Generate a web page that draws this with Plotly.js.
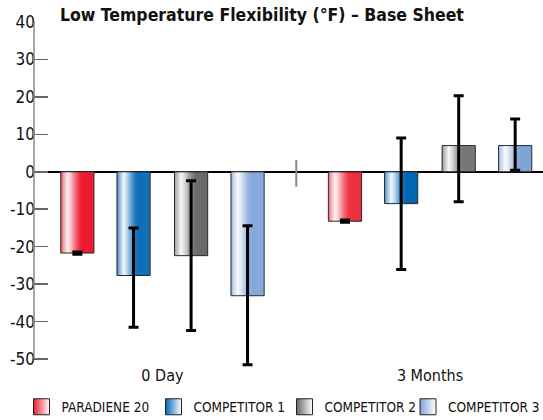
<!DOCTYPE html>
<html>
<head>
<meta charset="utf-8">
<script src="https://cdn.plot.ly/plotly-3.0.1.min.js"></script>
<style>html,body{margin:0;padding:0;background:#fff;}#chart{width:543px;height:420px;}</style>
</head>
<body>
<div id="chart"></div>
<script>
// ---- data ----
var categories = ['0 Day', '3 Months'];
var seriesNames = ['PARADIENE 20', 'COMPETITOR 1', 'COMPETITOR 2', 'COMPETITOR 3'];
var paradiene20 = [-21.7, -13.2];
var competitor1 = [-27.7, -8.5];
var competitor2 = [-22.4, 7.0];
var competitor3 = [-33.1, 7.0];
var paradiene20ErrPlus = [0.3, 0.3];
var paradiene20ErrMinus = [0.3, 0.3];
var competitor1ErrPlus = [12.7, 17.5];
var competitor1ErrMinus = [13.8, 17.6];
var competitor2ErrPlus = [20.0, 13.3];
var competitor2ErrMinus = [20.0, 15.0];
var competitor3ErrPlus = [18.7, 7.1];
var competitor3ErrMinus = [18.4, 6.6];
var yTickVals = [-50, -40, -30, -20, -10, 0, 10, 20, 30, 40];
var yTickText = ['-50', '-40', '-30', '-20', '-10', '0', '10', '20', '30', '40'];
var chartTitle = 'Low Temperature Flexibility (°F) – Base Sheet';

// ---- style ----
var FONT = '"DejaVu Sans Condensed", "Liberation Sans Narrow", sans-serif';
var baseColors = [[237, 28, 46], [0, 102, 179], [102, 102, 102], [127, 164, 216]];
var edgeColors = [[200, 60, 60], [60, 110, 185], [130, 130, 130], [140, 170, 215]];
var offsets = [-0.318, -0.108, 0.107, 0.318];
var barW = 0.124;
var N = 33;
var legendIds = ['legend', 'legend2', 'legend3', 'legend4'];
var legendX = [21.5, 153.5, 284.5, 408];
// white-mix profile across a bar (t from 0 to 1)
var profile = [[0, 0.15], [0.08, 0.55], [0.2, 0.95], [0.3, 0.75], [0.42, 0.4], [0.55, 0.1], [0.65, 0], [1, 0]];

function whiteAt(t) {
  for (var i = 1; i < profile.length; i++) {
    if (t <= profile[i][0]) {
      var a = profile[i - 1], b = profile[i];
      var u = (t - a[0]) / (b[0] - a[0]);
      return a[1] + (b[1] - a[1]) * u;
    }
  }
  return 0;
}
function mix(c, edge, t) {
  var w = whiteAt(t);
  var base = c;
  if (t < 0.08) {
    var k = 1 - t / 0.08;
    base = [c[0] * (1 - k) + edge[0] * k, c[1] * (1 - k) + edge[1] * k, c[2] * (1 - k) + edge[2] * k];
  }
  var r = Math.round(base[0] + (255 - base[0]) * w);
  var g = Math.round(base[1] + (255 - base[1]) * w);
  var bb = Math.round(base[2] + (255 - base[2]) * w);
  return 'rgb(' + r + ',' + g + ',' + bb + ')';
}

var values = [paradiene20, competitor1, competitor2, competitor3];
var errPlus = [paradiene20ErrPlus, competitor1ErrPlus, competitor2ErrPlus, competitor3ErrPlus];
var errMinus = [paradiene20ErrMinus, competitor1ErrMinus, competitor2ErrMinus, competitor3ErrMinus];

var traces = [];
// gradient strips
for (var s = 0; s < 4; s++) {
  var left = offsets[s] - barW / 2;
  var sw = barW / N;
  for (var k = 0; k < N; k++) {
    var t = (k + 0.5) / N;
    traces.push({
      type: 'bar', x: categories, y: values[s],
      offset: left + k * sw, width: sw * (k === N - 1 ? 1 : 1.3),
      marker: {color: mix(baseColors[s], edgeColors[s], t), line: {width: 0}},
      showlegend: false, hoverinfo: 'skip'
    });
  }
}
// outlines + error bars
for (var s2 = 0; s2 < 4; s2++) {
  traces.push({
    type: 'bar', x: categories, y: values[s2], name: seriesNames[s2],
    offset: offsets[s2] - barW / 2, width: barW,
    marker: {color: 'rgba(0,0,0,0)', line: {color: '#2a2a2a', width: 1}},
    error_y: {type: 'data', symmetric: false, array: errPlus[s2], arrayminus: errMinus[s2],
              color: '#000', thickness: 3, width: 5},
    showlegend: false
  });
}
// legend entries (one legend per entry, placed side by side)
var layoutLegends = {};
for (var s3 = 0; s3 < 4; s3++) {
  var bc = baseColors[s3];
  traces.push({
    type: 'scatter', mode: 'markers', x: [categories[0]], y: [null], name: seriesNames[s3],
    legend: legendIds[s3],
    marker: {symbol: 'square', size: 16, color: 'rgb(' + bc.join(',') + ')',
             line: {color: '#222', width: 1},
             gradient: {type: 'horizontal', color: '#ffffff'}},
    showlegend: true, hoverinfo: 'skip'
  });
  layoutLegends[legendIds[s3]] = {
    orientation: 'h', xref: 'container', yref: 'container', x: legendX[s3] / 543, y: 13 / 420,
    xanchor: 'left', yanchor: 'middle', font: {family: FONT, size: 13.5, color: '#111'},
    bgcolor: 'rgba(0,0,0,0)', itemclick: false, itemdoubleclick: false
  };
}

var layout = {
  width: 543, height: 420,
  margin: {l: 34, r: 0, t: 22, b: 52},
  paper_bgcolor: '#fff', plot_bgcolor: '#fff',
  barmode: 'overlay',
  font: {family: FONT, color: '#111'},
  title: {text: chartTitle, font: {family: FONT, size: 17.5, weight: 'bold', color: '#111'},
          xref: 'container', x: 60 / 543, xanchor: 'left', yref: 'container', y: 1 - 15 / 420, yanchor: 'middle'},
  xaxis: {type: 'category', range: [-0.480, 1.422], showline: false, ticks: '', showgrid: false,
          zeroline: false, tickfont: {family: FONT, size: 16, color: '#111'}, ticklabelstandoff: -4},
  yaxis: {range: [-52.4, 40], tickvals: yTickVals, ticktext: yTickText, showgrid: false,
          showline: false,
          ticks: 'inside', ticklen: 14, tickwidth: 1.5, tickcolor: '#666',
          zeroline: true, zerolinecolor: '#000', zerolinewidth: 1.5,
          ticklabelstandoff: -2,
          tickfont: {family: FONT, size: 17, color: '#111'}},
  shapes: [
    {type: 'line', xref: 'paper', yref: 'y', x0: 0, x1: 0, y0: -50, y1: 40,
     line: {color: '#888', width: 1.5}, layer: 'above'},
    {type: 'line', xref: 'x', yref: 'y', x0: 0.5, x1: 0.5, y0: -4, y1: 3.2,
     line: {color: '#888', width: 2}}
  ],
  showlegend: true
};
Object.assign(layout, layoutLegends);

Plotly.newPlot('chart', traces, layout, {displayModeBar: false, staticPlot: true});
</script>
</body>
</html>
